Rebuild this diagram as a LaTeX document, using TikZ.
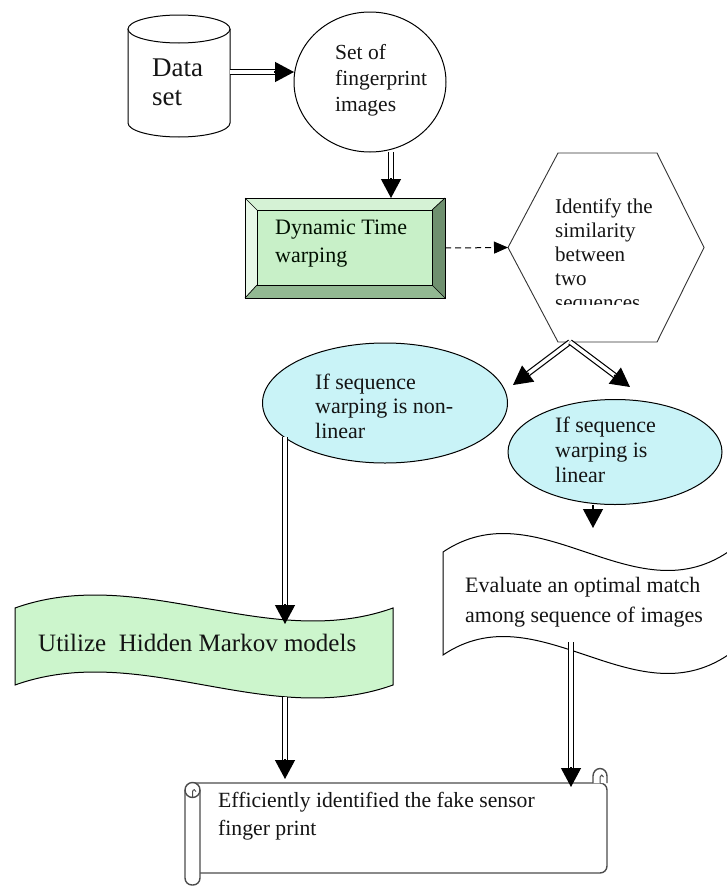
\documentclass[tikz,border=0pt]{standalone}
\usepackage{fontspec}
\setmainfont{Liberation Serif}
\usetikzlibrary{arrows.meta,calc,shapes.geometric}
\definecolor{gIn}{HTML}{C8F0C8}
\definecolor{gTop}{HTML}{D5F2D5}
\definecolor{gLeft}{HTML}{E8F8E8}
\definecolor{gRight}{HTML}{6F906F}
\definecolor{gBot}{HTML}{93B993}
\definecolor{cyanfill}{HTML}{C9F3F7}
\definecolor{wavegreen}{HTML}{CCF5CC}
\definecolor{ink}{HTML}{141414}
\begin{document}
\begin{tikzpicture}[x=1pt,y=-1pt,
  outl/.style={draw=black, line width=1pt},
  anchorbox/.style={inner sep=0pt, outer sep=0pt},
  txt/.style={align=left, inner sep=0pt, anchor=west, text=ink},
  shaft/.style={draw=black, double=white, line width=1.2pt, double distance=3.4pt, shorten >=15pt},
  tipend/.style={line width=1.2pt, -{Triangle[width=20pt,length=19pt]}},
  scrl/.style={draw=black!70, line width=1.4pt, fill=white}
]
\path[use as bounding box] (0,0) rectangle (727,886);
\clip (0,0) rectangle (727,886);

% ---------- Data set cylinder ----------
\node[anchorbox, minimum width=102pt, minimum height=122pt] (db) at (179,76) {};
\draw[outl, fill=white] (128,29) -- (128,123) .. controls (128,130.7) and (151,137) .. (179,137)
   .. controls (207,137) and (230,130.7) .. (230,123) -- (230,29);
\draw[outl, fill=white] (179,29) ellipse [x radius=51pt, y radius=14pt];
\node[txt, font=\fontsize{27}{29}\selectfont] (dbtxt) at (152,82) {Data\\set};

% ---------- Set of fingerprint images ----------
\node[outl, ellipse, minimum width=152pt, minimum height=140pt, fill=white, anchorbox] (ell1) at (370,82) {};
\node[txt, font=\fontsize{21.5}{26}\selectfont] (ell1txt) at (335,80) {Set of\\fingerprint\\images};

% ---------- Dynamic Time warping (bevel box) ----------
\node[anchorbox, minimum width=200pt, minimum height=100pt] (dtw) at (345,248) {};
\fill[gTop] (245,198) -- (445,198) -- (432,210) -- (257,210) -- cycle;
\fill[gLeft] (245,198) -- (257,210) -- (257,285) -- (245,298) -- cycle;
\fill[gRight] (445,198) -- (445,298) -- (432,285) -- (432,210) -- cycle;
\fill[gBot] (245,298) -- (257,285) -- (432,285) -- (445,298) -- cycle;
\draw[outl, fill=gIn] (257,210) rectangle (432,285);
\draw[outl] (245,198) rectangle (445,298);
\draw[black, line width=0.7pt] (245,198) -- (257,210) (445,198) -- (432,210) (245,298) -- (257,285) (445,298) -- (432,285);
\node[txt, font=\fontsize{22}{28}\selectfont, text=black!85!green!40!black] (dtwtxt) at (275,244) {Dynamic Time\\warping};

% ---------- Hexagon ----------
\node[anchorbox, minimum width=196pt, minimum height=189pt] (hex) at (606,247.5) {};
\draw[outl, line width=0.9pt, draw=black!80, fill=white] (508,247.5) -- (558,153) -- (657,153) -- (704,247.5) -- (657,342) -- (558,342) -- cycle;
\begin{scope}
  \clip (540,185) rectangle (700,304);
  \node[txt, font=\fontsize{21}{24}\selectfont] (hextxt) at (555,256) {Identify the\\similarity\\between\\two\\sequences};
\end{scope}

% ---------- Decision ellipses ----------
\node[outl, ellipse, minimum width=245pt, minimum height=120pt, fill=cyanfill, anchorbox] (ell2) at (385,403) {};
\node[txt, font=\fontsize{22}{24.5}\selectfont] (ell2txt) at (315,406) {If sequence\\warping is non-\\linear};
\node[outl, ellipse, minimum width=214pt, minimum height=105pt, fill=cyanfill, anchorbox] (ell3) at (615,452) {};
\node[txt, font=\fontsize{22}{25}\selectfont] (ell3txt) at (555,450) {If sequence\\warping is\\linear};

% ---------- Wave: Hidden Markov ----------
\node[anchorbox, minimum width=378pt, minimum height=92pt] (hmm) at (204,646) {};
\draw[outl, fill=wavegreen] (15,608) .. controls (141,563) and (267,653) .. (393,608) -- (393,685)
   .. controls (267,730) and (141,640) .. (15,685) -- cycle;
\node[txt, font=\fontsize{25}{28}\selectfont] (hmmtxt) at (38,643) {Utilize~~Hidden Markov models};

% ---------- Wave: Evaluate ----------
\node[anchorbox, minimum width=285pt, minimum height=110pt] (ev) at (585,604) {};
\draw[outl, fill=white] (443,552) .. controls (538,488) and (633,616) .. (728,552) -- (728,655)
   .. controls (633,719) and (538,591) .. (443,655) -- cycle;
\node[txt, font=\fontsize{22}{30}\selectfont] (evtxt) at (465,602) {Evaluate an optimal match\\among sequence of images};

% ---------- Scroll ----------
\node[anchorbox, minimum width=422pt, minimum height=117pt] (scr) at (396,826) {};
\draw[scrl, rounded corners=7pt] (192,783) -- (607,783) -- (607,873) -- (195,873);
\draw[scrl, rounded corners=7pt] (185,790) -- (185,885) -- (200,885) -- (200,790);
\draw[scrl] (192.5,790) circle (7.5pt);
\draw[draw=black!70, line width=1pt] (192.5,797.5) -- (192.5,792) .. controls (192.5,789) and (196,789) .. (196,791.5);
\draw[scrl] (593,783) -- (593,776) .. controls (593,772) and (596.1,768.5) .. (600,768.5)
   .. controls (603.9,768.5) and (607,772) .. (607,776) -- (607,783);
\draw[draw=black!70, line width=1pt] (600,783) -- (600,777) .. controls (600,774.5) and (603.5,774.5) .. (603.5,777);
\node[txt, font=\fontsize{21.7}{28}\selectfont] (scrtxt) at (218,816) {Efficiently identified the fake sensor\\finger print};

% ---------- Connectors ----------
\coordinate (a1s) at ([yshift=4pt]db.east);
\coordinate (a1e) at ([yshift=4pt]db.east -| ell1.west);
\draw[shaft] (a1s) -- (a1e);
\draw[tipend] ($(a1e)!20pt!(a1s)$) -- (a1e);

\coordinate (a2s) at ([xshift=21pt]ell1.south);
\coordinate (a2e) at ([xshift=21pt]ell1.south |- dtw.north);
\draw[shaft] (a2s) -- (a2e);
\draw[tipend] ($(a2e)!20pt!(a2s)$) -- (a2e);

\draw[line width=1pt, dash pattern=on 6pt off 4pt, -{Triangle[width=12pt,length=14pt]}] (dtw.east) -- (hex.west);

\coordinate (br) at ([xshift=-36pt]hex.south);
\coordinate (t2) at (513,385);
\coordinate (t3) at (630,387);
\draw[shaft] (br) -- (t2);
\draw[tipend] ($(t2)!20pt!(br)$) -- (t2);
\draw[shaft] (br) -- (t3);
\draw[tipend] ($(t3)!20pt!(br)$) -- (t3);

\coordinate (e2b) at (285,437);
\coordinate (w1t) at (285,624);
\draw[shaft] (e2b) -- (w1t);
\draw[tipend] ($(w1t)!20pt!(e2b)$) -- (w1t);

\coordinate (e3b) at ([xshift=-22pt]ell3.south);
\coordinate (w2t) at (593,528);
\draw[tipend] (e3b) -- (w2t);

\coordinate (w1b) at (285,697);
\coordinate (s1) at (285,779);
\draw[shaft] (w1b) -- (s1);
\draw[tipend] ($(s1)!20pt!(w1b)$) -- (s1);

\coordinate (w2b) at (571,642);
\coordinate (s2) at (571,787);
\draw[shaft] (w2b) -- (s2);
\draw[tipend] ($(s2)!20pt!(w2b)$) -- (s2);
\end{tikzpicture}
\end{document}
